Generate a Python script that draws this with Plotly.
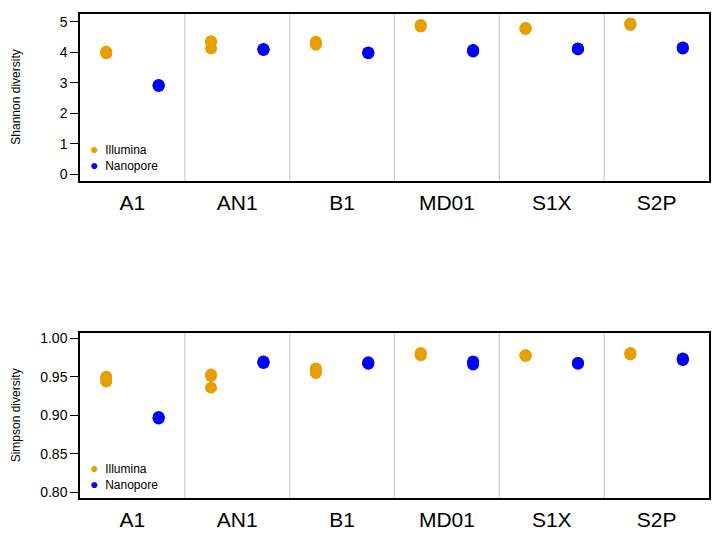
import plotly.graph_objects as go
from plotly.subplots import make_subplots

samples = ["A1", "AN1", "B1", "MD01", "S1X", "S2P"]

# replicate values per sample
shannon_illumina = [[4.02, 3.97, 4.00], [4.37, 4.13, 4.35], [4.35, 4.25, 4.30],
                    [4.90, 4.85, 4.88], [4.80, 4.77, 4.79], [4.95, 4.90, 4.93]]
shannon_nanopore = [[2.93, 2.90, 2.92], [4.10, 4.08, 4.11], [4.00, 3.97, 3.99],
                    [4.08, 4.03, 4.06], [4.13, 4.10, 4.12], [4.16, 4.13, 4.15]]
simpson_illumina = [[0.950, 0.944, 0.947], [0.953, 0.936, 0.951], [0.961, 0.955, 0.958],
                    [0.981, 0.978, 0.980], [0.978, 0.977, 0.978], [0.981, 0.979, 0.980]]
simpson_nanopore = [[0.898, 0.896, 0.897], [0.970, 0.968, 0.969], [0.969, 0.967, 0.968],
                    [0.970, 0.966, 0.968], [0.968, 0.967, 0.968], [0.974, 0.972, 0.973]]

ORANGE = "#E69F00"
BLUE = "#0000FF"
FONT = "Liberation Sans, Arial, sans-serif"

fig = make_subplots(rows=2, cols=1, vertical_spacing=0.0)


def flat(groups, offset):
    xs, ys = [], []
    for i, vals in enumerate(groups):
        for v in vals:
            xs.append(i + offset)
            ys.append(v)
    return xs, ys


for row, (ill, nano) in enumerate([(shannon_illumina, shannon_nanopore),
                                    (simpson_illumina, simpson_nanopore)], start=1):
    for groups, off, col, name in [(ill, 0.25, ORANGE, "Illumina"), (nano, 0.75, BLUE, "Nanopore")]:
        x, y = flat(groups, off)
        fig.add_trace(go.Scatter(x=x, y=y, mode="markers", name=name, showlegend=False,
                                 marker=dict(color=col, size=12, symbol="circle",
                                             line=dict(width=0))),
                      row=row, col=1)
    # grey separators between samples
    for k in range(1, len(samples)):
        fig.add_shape(type="line", x0=k, x1=k, y0=0, y1=1,
                      xref="x" if row == 1 else "x2",
                      yref="y domain" if row == 1 else "y2 domain",
                      line=dict(color="#CCCCCC", width=1.2), layer="below")

axis_common = dict(showline=True, mirror=True, linecolor="black", linewidth=1.5,
                   showgrid=False, zeroline=False)

for xa in ["xaxis", "xaxis2"]:
    fig.layout[xa].update(axis_common, range=[0, 6],
                          tickvals=[i + 0.5 for i in range(len(samples))],
                          ticktext=samples, ticks="", ticklen=0, ticklabelstandoff=2,
                          tickfont=dict(size=21, family=FONT, color="black"))

# page body adds an 8px offset, margins compensate for it
fig.update_layout(
    width=724, height=539,
    margin=dict(l=72, r=23, t=4, b=49),
    plot_bgcolor="white", paper_bgcolor="white",
    font=dict(family=FONT, color="black"),
    xaxis=dict(domain=[0, 1]),
    xaxis2=dict(domain=[0, 1]),
    yaxis=dict(axis_common, domain=[0.654, 1.0], range=[-0.23, 5.26],
               tickvals=[0, 1, 2, 3, 4, 5], ticks="outside", ticklen=8,
               tickcolor="black", tickwidth=1,
               tickfont=dict(size=14, family=FONT, color="black")),
    yaxis2=dict(axis_common, domain=[0.0, 0.3416], range=[0.7926, 1.0074],
                tickvals=[0.80, 0.85, 0.90, 0.95, 1.00], tickformat=".2f",
                ticks="outside", ticklen=8, tickcolor="black", tickwidth=1,
                tickfont=dict(size=14, family=FONT, color="black")),
)

annotations = []
# y axis titles
for txt, yc in [("Shannon diversity", (498 - 96) / 486), ("Simpson diversity", (498 - 415) / 486)]:
    annotations.append(dict(text=txt, x=(16 - 80) / 629, y=yc, xref="paper", yref="paper",
                            textangle=-90, showarrow=False, xanchor="center", yanchor="middle",
                            font=dict(size=12, family=FONT, color="black")))
# legends inside lower-left of each panel
legend_text = "<br>".join(
    f"<span style='color:{col};font-size:14px'>●</span>  {name}"
    for col, name in [(ORANGE, "Illumina"), (BLUE, "Nanopore")])
for center in [155.5, 475.5]:
    annotations.append(dict(
        text=legend_text, align="left",
        x=(88 - 80) / 629, y=(498 - center) / 486, xref="paper", yref="paper",
        showarrow=False, xanchor="left", yanchor="middle",
        font=dict(size=12, family=FONT, color="black")))
fig.update_layout(annotations=annotations)

fig.write_html("out.html")
